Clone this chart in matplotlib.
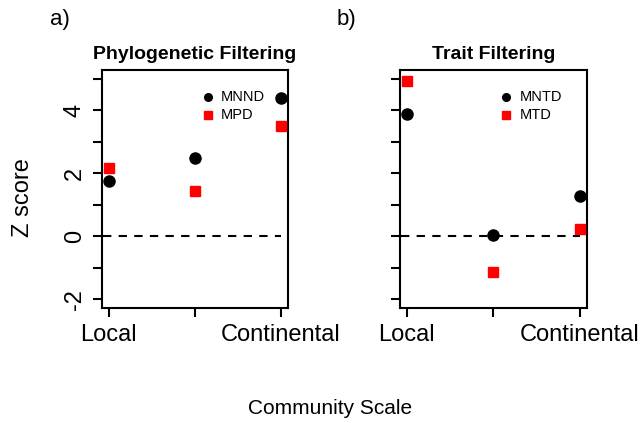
import numpy as np
import matplotlib.pyplot as plt

plt.rcParams['font.family'] = ['Liberation Sans', 'DejaVu Sans']

# community scale positions and labels
scale = [1, 2, 3]
scale_labels = ['Local', '', 'Continental']

# phylogenetic filtering z scores
mnnd = [1.74, 2.47, 4.40]
mpd = [2.15, 1.43, 3.48]

# trait filtering z scores
mntd = [3.89, 0.03, 1.27]
mtd = [4.94, -1.14, 0.22]

fig = plt.figure(figsize=(6.44, 4.23), dpi=100)
ax1 = fig.add_axes([0.158, 0.272, 0.289, 0.563])
ax2 = fig.add_axes([0.621, 0.272, 0.290, 0.563])


def draw_panel(ax, circ, sq, circ_name, sq_name, title, show_ylab):
    ax.hlines(0, 0.93, 3.0, colors='black', linestyles=(0, (4, 3.5)), lw=1.5)
    ax.plot(scale, circ, 'o', color='black', ms=8, clip_on=False, zorder=3)
    ax.plot(scale, sq, 's', color='red', ms=7, clip_on=False, zorder=3)
    ax.set_xlim(0.92, 3.08)
    ax.set_ylim(-2.28, 5.28)
    ax.set_xticks(scale)
    ax.set_xticklabels(scale_labels, fontsize=17)
    ax.set_yticks(np.arange(-2, 6))
    if show_ylab:
        ax.set_yticklabels(['-2', '', '0', '', '2', '', '4', ''], fontsize=17,
                           rotation=90, va='center')
    else:
        ax.set_yticklabels([])
    ax.tick_params(direction='out', length=6.5, width=1.5, pad=5)
    for s in ax.spines.values():
        s.set_linewidth(1.5)
    ax.set_title(title, fontsize=14, fontweight='bold', pad=8)
    # small legend, no frame
    ax.plot([0.57], [0.887], 'o', color='black', ms=5.5, transform=ax.transAxes, clip_on=False)
    ax.plot([0.57], [0.811], 's', color='red', ms=5.5, transform=ax.transAxes, clip_on=False)
    ax.text(0.64, 0.887, circ_name, transform=ax.transAxes, fontsize=10.5, va='center')
    ax.text(0.64, 0.811, sq_name, transform=ax.transAxes, fontsize=10.5, va='center')


draw_panel(ax1, mnnd, mpd, 'MNND', 'MPD', 'Phylogenetic Filtering', True)
draw_panel(ax2, mntd, mtd, 'MNTD', 'MTD', 'Trait Filtering', False)

fig.text(0.078, 0.955, 'a)', fontsize=16, va='center')
fig.text(0.523, 0.955, 'b)', fontsize=16, va='center')
fig.text(0.036, 0.534, 'Z score', fontsize=17, rotation=90, va='center', ha='center')
fig.text(0.512, 0.035, 'Community Scale', fontsize=15, ha='center', va='center')

fig.savefig('out.png', dpi=100)
